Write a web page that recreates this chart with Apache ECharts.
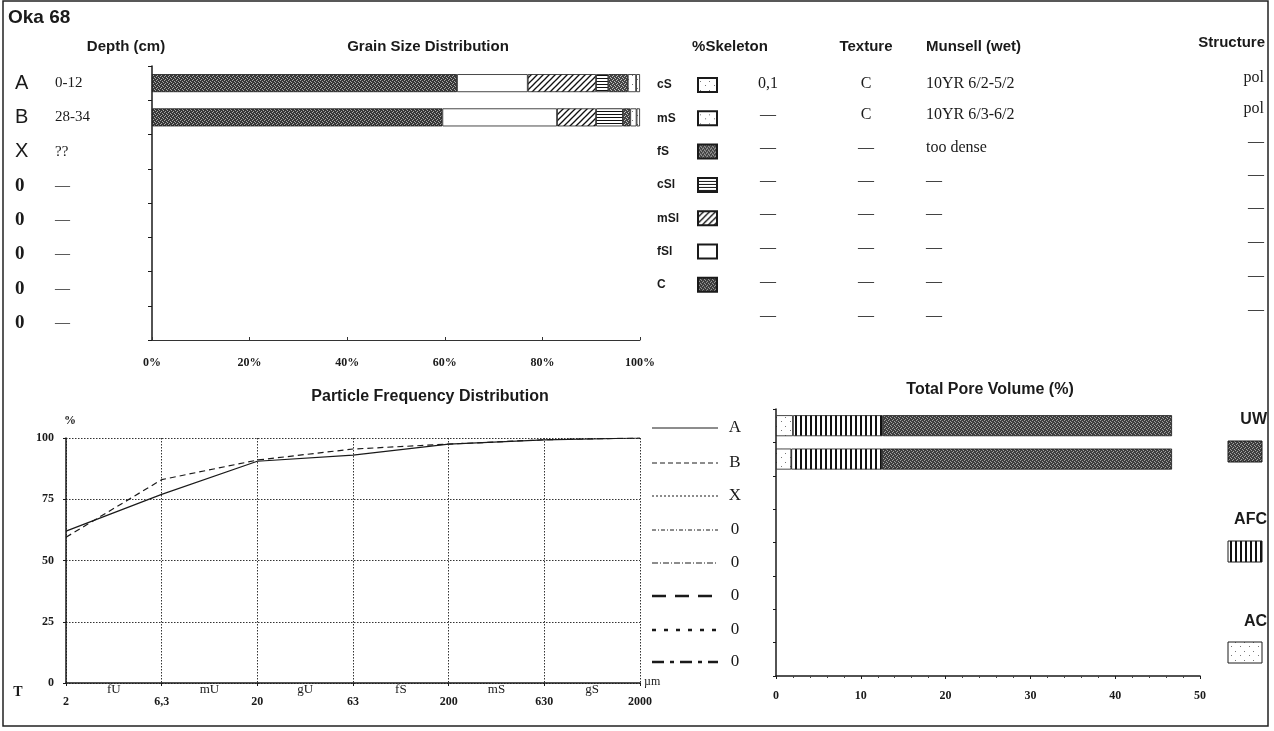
<!DOCTYPE html>
<html>
<head>
<meta charset="utf-8">
<script src="https://cdn.jsdelivr.net/npm/echarts@6/dist/echarts.min.js"></script>
<style>
  html, body { margin: 0; padding: 0; background: #fff; }
  #chart { width: 1274px; height: 731px; }
</style>
</head>
<body>
<div id="chart"></div>
<script>
// horizons + depth column
const horizons = ['A', 'B', 'X', '0', '0', '0', '0', '0']
const depths = ['0-12', '28-34', '??', '—', '—', '—', '—', '—']

// grain size distribution (%), stacked left -> right
const grainClasses = ['C', 'fSl', 'mSl', 'cSl', 'fS', 'mS', 'cS']
const grainLegend = ['cS', 'mS', 'fS', 'cSl', 'mSl', 'fSl', 'C']
const grainA = [62.5, 14.5, 14, 2.5, 4, 1.7, 0.8]
const grainB = [59.5, 23.5, 8, 5.5, 1.5, 1.3, 0.7]

// table columns
const skeleton = ['0,1', '—', '—', '—', '—', '—', '—', '—']
const texture = ['C', 'C', '—', '—', '—', '—', '—', '—']
const munsell = ['10YR 6/2-5/2', '10YR 6/3-6/2', 'too dense', '—', '—', '—', '—', '—']
const structure = ['pol', 'pol', '—', '—', '—', '—', '—', '—']

// particle frequency distribution (cumulative %)
const sizeTicks = ['2', '6,3', '20', '63', '200', '630', '2000']
const sizeClasses = ['fU', 'mU', 'gU', 'fS', 'mS', 'gS']
const cumA = [62, 77, 90.5, 93, 97.5, 99.2, 100]
const cumB = [59.5, 83, 91, 95.5, 97.5, 99.3, 100]
const lineLegend = ['A', 'B', 'X', '0', '0', '0', '0', '0']

// total pore volume (%)
const poreClasses = ['AC', 'AFC', 'UW']
const poreA = [2.0, 10.6, 34.1]
const poreB = [1.8, 10.7, 34.2]

const INK = '#1a1a1a'
const SANS = '"Liberation Sans", Arial, sans-serif'
const SERIF = '"Liberation Serif", "Times New Roman", serif'

const pattern = (w, h, draw) => {
  const c = document.createElement('canvas')
  c.width = w
  c.height = h
  const g = c.getContext('2d')
  g.fillStyle = '#fff'
  g.fillRect(0, 0, w, h)
  draw(g)
  return { image: c, repeat: 'repeat' }
}

const stipple = (bg, fg) => pattern(4, 4, g => {
  g.fillStyle = bg
  g.fillRect(0, 0, 4, 4)
  g.fillStyle = fg
  ;[[0, 0], [2, 1], [1, 3], [3, 2]].forEach(([x, y]) => g.fillRect(x, y, 1, 1))
})

const dots = () => pattern(9, 9, g => {
  g.fillStyle = '#777'
  g.fillRect(2, 3, 1, 1)
  g.fillRect(7, 7, 1, 1)
})

const fills = {
  C: stipple('#383838', '#a8a8a8'),
  fSl: '#ffffff',
  mSl: pattern(6, 6, g => {
    g.strokeStyle = '#111'
    g.lineWidth = 1.3
    for (const k of [-6, 0, 6]) {
      g.beginPath()
      g.moveTo(k - 1, 7)
      g.lineTo(k + 7, -1)
      g.stroke()
    }
  }),
  cSl: pattern(4, 3, g => {
    g.fillStyle = '#111'
    g.fillRect(0, 0, 4, 1)
  }),
  fS: stipple('#444', '#c0c0c0'),
  mS: dots(),
  cS: dots(),
  AC: dots(),
  AFC: pattern(5, 4, g => {
    g.fillStyle = '#111'
    g.fillRect(0, 0, 2, 4)
  }),
  UW: stipple('#3e3e3e', '#a0a0a0')
}

const rowIds = horizons.map((h, i) => 'r' + i)
const tableRows = [84, 115, 148, 181, 214, 248, 282, 316]

const txt = (x, y, text, font, align = 'left') => ({
  type: 'text', x, y, silent: true,
  style: { text, font, fill: INK, align, verticalAlign: 'middle' }
})

const graphics = []
graphics.push({
  type: 'rect', silent: true,
  shape: { x: 3, y: 1, width: 1265, height: 725 },
  style: { fill: 'none', stroke: '#222', lineWidth: 1.5 }
})
graphics.push(txt(8, 18, 'Oka 68', `bold 19px ${SANS}`))
graphics.push(txt(126, 47, 'Depth (cm)', `bold 15px ${SANS}`, 'center'))
graphics.push(txt(428, 47, 'Grain Size Distribution', `bold 15px ${SANS}`, 'center'))
graphics.push(txt(730, 47, '%Skeleton', `bold 15px ${SANS}`, 'center'))
graphics.push(txt(866, 47, 'Texture', `bold 15px ${SANS}`, 'center'))
graphics.push(txt(926, 47, 'Munsell (wet)', `bold 15px ${SANS}`))
graphics.push(txt(1265, 43, 'Structure', `bold 15px ${SANS}`, 'right'))
tableRows.forEach((y, i) => {
  graphics.push(txt(768, y, skeleton[i], `16px ${SERIF}`, 'center'))
  graphics.push(txt(866, y, texture[i], `16px ${SERIF}`, 'center'))
  graphics.push(txt(926, y, munsell[i], `16px ${SERIF}`))
  graphics.push(txt(1264, y - 6, structure[i], `16px ${SERIF}`, 'right'))
})

graphics.push(txt(430, 397, 'Particle Frequency Distribution', `bold 16px ${SANS}`, 'center'))
graphics.push(txt(64, 421, '%', `bold 12px ${SERIF}`))
graphics.push(txt(18, 692, 'T', `bold 14px ${SERIF}`, 'center'))
graphics.push(txt(644, 682, 'µm', `12px ${SERIF}`))

const lineDash = [null, [5, 3], [2, 2], [4, 2, 1, 2], [6, 2, 1, 2], [14, 9], [4, 8], [12, 6, 4, 6]]
const lineW = [1, 1, 1, 1, 1, 2.5, 2.5, 2.5]
const legendRows = [428, 463, 496, 530, 563, 596, 630, 662]
lineLegend.forEach((name, i) => {
  graphics.push({
    type: 'line', silent: true,
    shape: { x1: 652, y1: legendRows[i], x2: 718, y2: legendRows[i] },
    style: { stroke: INK, lineWidth: lineW[i], lineDash: lineDash[i] }
  })
  graphics.push(txt(735, legendRows[i], name, `17px ${SERIF}`, 'center'))
})

graphics.push(txt(990, 390, 'Total Pore Volume (%)', `bold 16px ${SANS}`, 'center'))
const poreLegendY = [[420, 441], [520, 541], [622, 642]]
;['UW', 'AFC', 'AC'].forEach((name, i) => {
  graphics.push(txt(1267, poreLegendY[i][0], name, `bold 16px ${SANS}`, 'right'))
  graphics.push({
    type: 'rect', silent: true,
    shape: { x: 1228, y: poreLegendY[i][1], width: 34, height: 21 },
    style: { fill: fills[name], stroke: INK, lineWidth: 1 }
  })
})

const chart = echarts.init(document.getElementById('chart'))

const option = {
  animation: false,
  backgroundColor: '#fff',
  textStyle: { fontFamily: SERIF, color: INK },
  grid: [
    { left: 152, top: 66, width: 488, height: 274 },
    { left: 66, top: 438, width: 574, height: 245 },
    { left: 776, top: 409, width: 424, height: 267 }
  ],
  legend: {
    data: grainLegend,
    orient: 'vertical',
    left: 652,
    top: 72,
    align: 'right',
    icon: 'rect',
    itemWidth: 19,
    itemHeight: 14,
    itemGap: 17.3,
    selectedMode: false,
    formatter: name => `{n|${name}}`,
    textStyle: {
      lineHeight: 14,
      rich: { n: { fontFamily: SANS, fontWeight: 'bold', fontSize: 12, lineHeight: 14, color: INK, width: 36, align: 'left' } }
    }
  },
  xAxis: [
    {
      type: 'value', gridIndex: 0, min: 0, max: 100, interval: 20,
      axisLine: { show: true, lineStyle: { color: '#333', width: 1 } },
      axisTick: { show: true, inside: true, length: 3, lineStyle: { color: '#333' } },
      axisLabel: { formatter: '{value}%', margin: 17, fontFamily: SERIF, fontWeight: 'bold', fontSize: 12, color: INK },
      splitLine: { show: false }
    },
    {
      type: 'category', gridIndex: 1, data: sizeTicks, boundaryGap: false,
      axisLine: { lineStyle: { color: INK, width: 1.5 } },
      axisTick: { length: 3, lineStyle: { color: INK } },
      axisLabel: { margin: 13, fontFamily: SERIF, fontWeight: 'bold', fontSize: 12, color: INK },
      splitLine: { show: true, lineStyle: { color: '#333', type: [1.5, 1.5], width: 1 } }
    },
    {
      type: 'category', gridIndex: 1, data: sizeClasses, boundaryGap: true, position: 'bottom',
      axisLine: { show: false },
      axisTick: { show: false },
      axisLabel: { margin: 0, fontFamily: SERIF, fontSize: 13, color: INK },
      splitLine: { show: false }
    },
    {
      type: 'value', gridIndex: 2, min: 0, max: 50, interval: 10,
      axisLine: { show: true, lineStyle: { color: INK, width: 1.5 } },
      axisTick: { show: true, inside: false, length: 3, lineStyle: { color: INK } },
      minorTick: { show: true, splitNumber: 5, length: 2, lineStyle: { color: '#444' } },
      axisLabel: { margin: 14, fontFamily: SERIF, fontWeight: 'bold', fontSize: 12, color: INK },
      splitLine: { show: false }
    }
  ],
  yAxis: [
    {
      type: 'category', gridIndex: 0, data: rowIds, inverse: true,
      axisLine: { show: true, lineStyle: { color: INK, width: 1.5 } },
      axisTick: { show: true, length: 4, lineStyle: { color: INK } },
      axisLabel: {
        align: 'left', margin: 137,
        formatter: (v, i) => `{${horizons[i] === '0' ? 'z' : 'h'}|${horizons[i]}}{d|${depths[i]}}`,
        rich: {
          h: { fontFamily: SANS, fontSize: 20, width: 40, color: INK },
          z: { fontFamily: SERIF, fontWeight: 'bold', fontSize: 19, width: 40, color: INK },
          d: { fontFamily: SERIF, fontSize: 15, color: INK }
        }
      }
    },
    {
      type: 'value', gridIndex: 1, min: 0, max: 100, interval: 25,
      axisLine: { show: true, lineStyle: { color: INK, width: 1.5 } },
      axisTick: { show: true, length: 3, lineStyle: { color: INK } },
      axisLabel: { margin: 12, fontFamily: SERIF, fontWeight: 'bold', fontSize: 12, color: INK },
      splitLine: { show: true, lineStyle: { color: '#333', type: [1.5, 1.5], width: 1 } }
    },
    {
      type: 'category', gridIndex: 2, data: rowIds, inverse: true,
      axisLine: { show: true, lineStyle: { color: INK, width: 1.5 } },
      axisTick: { show: true, length: 3, lineStyle: { color: INK } },
      axisLabel: { show: false }
    }
  ],
  series: [
    ...grainClasses.map((name, i) => ({
      name,
      type: 'bar',
      stack: 'grain',
      xAxisIndex: 0,
      yAxisIndex: 0,
      barWidth: 18,
      data: [grainA[i], grainB[i]],
      itemStyle: { color: fills[name], borderColor: INK, borderWidth: 0.8 }
    })),
    {
      name: 'A', type: 'line', xAxisIndex: 1, yAxisIndex: 1, data: cumA,
      symbol: 'none', lineStyle: { color: INK, width: 1.2, type: 'solid' }
    },
    {
      name: 'B', type: 'line', xAxisIndex: 1, yAxisIndex: 1, data: cumB,
      symbol: 'none', lineStyle: { color: INK, width: 1.2, type: [6, 4] }
    },
    ...poreClasses.map((name, i) => ({
      name,
      type: 'bar',
      stack: 'pore',
      xAxisIndex: 3,
      yAxisIndex: 2,
      barWidth: 21,
      data: [poreA[i], poreB[i]],
      itemStyle: { color: fills[name], borderColor: INK, borderWidth: 0.8 }
    }))
  ],
  graphic: graphics
}

chart.setOption(option)
window.addEventListener('resize', () => chart.resize())
</script>
</body>
</html>
